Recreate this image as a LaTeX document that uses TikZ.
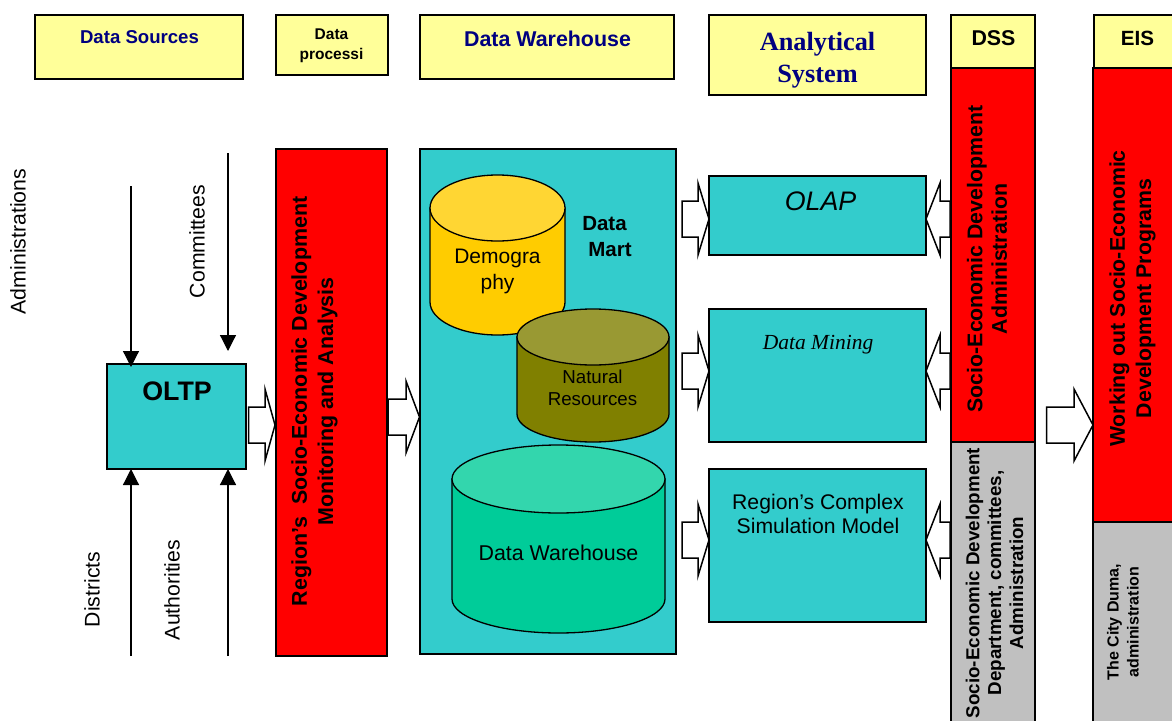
\documentclass[tikz,border=0pt]{standalone}
\usepackage{fontspec}
\setmainfont{Liberation Sans}
\newfontfamily\seriffont{Liberation Serif}
\usetikzlibrary{arrows.meta}
\definecolor{teal1}{HTML}{33CCCC}
\definecolor{paley}{HTML}{FFFF99}
\definecolor{navy1}{HTML}{000080}
\definecolor{gray1}{HTML}{C0C0C0}
\definecolor{olive1}{HTML}{808000}
\definecolor{olive2}{HTML}{999933}
\definecolor{gold1}{HTML}{FFCC00}
\definecolor{gold2}{HTML}{FFD633}
\definecolor{green1}{HTML}{00CC99}
\definecolor{green2}{HTML}{33D6AD}
\newcommand{\fs}[1]{\fontsize{#1}{#1}\selectfont}
% right-pointing block arrow: start x, base x, tip x, centre y
\newcommand{\barrow}[4]{\draw[blockline] (#1,#4-18) -- (#2,#4-18) -- (#2,#4-36) -- (#3,#4) -- (#2,#4+36) -- (#2,#4+18) -- (#1,#4+18) -- cycle;}
\newcommand{\drawcyl}[7]{% xl xr ytop ybot ry body lid
  \pgfmathsetmacro{\rx}{(#2-#1)/2}
  \pgfmathsetmacro{\cx}{(#1+#2)/2}
  \draw[cylline,fill=#6] (#1,#3) -- (#1,#4) arc[start angle=180,end angle=360,x radius=\rx,y radius=-#5] -- (#2,#3) -- cycle;
  \draw[cylline,fill=#7] (\cx,#3) ellipse[x radius=\rx,y radius=#5];
}
\tikzset{
  x=1pt,y=-1pt,
  boxline/.style={draw=black,line width=1.4pt},
  blockline/.style={draw=black,fill=white,line width=1.5pt,line join=miter},
  cylline/.style={draw=black,line width=1.3pt},
  thin arrow/.style={draw=black,line width=1.2pt,-{Triangle[length=16pt,width=16pt]}},
  head/.style={text=navy1,align=center,inner sep=0pt},
  lbl/.style={text=black,align=center,inner sep=0pt},
  vert/.style={text=black,align=center,inner sep=0pt,rotate=90},
}
\begin{document}
\begin{tikzpicture}
\useasboundingbox (0,0) rectangle (1172,720);
% header boxes
\path[boxline,fill=paley] (35,15) rectangle (243,79);
\path[boxline,fill=paley] (276,15) rectangle (388,75);
\path[boxline,fill=paley] (420,15) rectangle (674,79);
\path[boxline,fill=paley] (709,15) rectangle (926,95);
\path[boxline,fill=paley] (951,15) rectangle (1035,68);
\path[boxline,fill=paley] (1094,15) rectangle (1180,68);
\node[head,font=\bfseries\fs{18.6}] (hsrc) at (139.5,37) {Data Sources};
\node[lbl,font=\bfseries\fs{15.5}] (hproc) at (331.5,46) {Data\\[4pt]processi};
\node[head,font=\bfseries\fs{21.4}] (hdw) at (547.5,39) {Data Warehouse};
\node[head,font=\bfseries\fs{26.3}\seriffont] (hana) at (817.5,60) {Analytical\\[6pt]System};
\node[lbl,font=\bfseries\fs{21.4}] (hdss) at (993.5,38) {DSS};
\node[lbl,font=\bfseries\fs{20.6}] (heis) at (1137.5,38) {EIS};
% columns
\path[boxline,fill=gray1] (951,442) rectangle (1035,730);
\path[boxline,fill=red] (951,68) rectangle (1035,442);
\path[boxline,fill=gray1] (1093,522) rectangle (1180,730);
\path[boxline,fill=red] (1093,68) rectangle (1180,522);
\path[boxline,fill=red] (276,149) rectangle (387,656);
\path[boxline,fill=teal1] (420,149) rectangle (676,654);
\path[boxline,fill=teal1] (709,176) rectangle (926,255);
\path[boxline,fill=teal1] (709,309) rectangle (926,442);
\path[boxline,fill=teal1] (709,469) rectangle (926,622);
\path[boxline,fill=teal1] (107,364) rectangle (246,469);
% cylinders
\drawcyl{430}{565}{208}{302}{33}{gold1}{gold2}
\drawcyl{517}{669}{337}{414}{28}{olive1}{olive2}
\drawcyl{452}{665}{479}{599}{34}{green1}{green2}
% block arrows
\barrow{248.5}{265}{275}{425}
\barrow{388}{406}{419.5}{417}
\barrow{682}{698}{709}{219}
\barrow{682}{698}{709}{371}
\barrow{682}{698}{709}{540}
\barrow{950}{940}{926}{219}
\barrow{950}{940}{926}{371}
\barrow{950}{940}{926}{540}
\barrow{1046.5}{1074}{1093}{425}
% thin arrows
\coordinate (a1s) at (131,186); \coordinate (a1e) at (131,367);
\coordinate (a2s) at (228,153); \coordinate (a2e) at (228,351);
\coordinate (a3s) at (131,656); \coordinate (a3e) at (131,469);
\coordinate (a4s) at (228,656); \coordinate (a4e) at (228,469);
\draw[thin arrow] (a1s) -- (a1e);
\draw[thin arrow] (a2s) -- (a2e);
\draw[thin arrow] (a3s) -- (a3e);
\draw[thin arrow] (a4s) -- (a4e);
% labels
\node[vert,font=\fs{21.3}] (ladm) at (18,241.5) {Administrations};
\node[vert,font=\fs{21.2}] (lcom) at (197,241.5) {Committees};
\node[vert,font=\fs{21.2}] (ldis) at (92,589.5) {Districts};
\node[vert,font=\fs{21.2}] (laut) at (172,590) {Authorities};
\node[lbl,font=\bfseries\fs{26.8}] (oltp) at (177,391) {OLTP};
\node[vert,font=\bfseries\fs{21.4}] (lreg) at (314.5,401.5) {Region’s\ \ Socio-Economic Development\\[5pt]Monitoring and Analysis};
\node[lbl,font=\bfseries\fs{20.5}] (lmart) at (610,236.5) {Data\hspace*{11pt}\\[5pt]Mart};
\node[lbl,font=\fs{21}] (ldem) at (497.5,271) {Demogra\\[5pt]phy};
\node[lbl,font=\fs{18.7}] (lnat) at (592.5,388) {Natural\\[3pt]Resources};
\node[lbl,font=\fs{21.4}] (lwh) at (558.5,553) {Data Warehouse};
\node[lbl,font=\itshape\fs{26.8}] (lolap) at (820.5,201) {OLAP};
\node[lbl,font=\itshape\fs{21.5}\seriffont] (lmin) at (818,345) {Data Mining};
\node[lbl,font=\fs{21.2}] (lsim) at (818,514) {Region’s Complex\\[3pt]Simulation Model};
\node[vert,font=\bfseries\fs{21.3}] (ldssr) at (987,259) {Socio-Economic Development\\[3pt]Administration};
\node[vert,font=\bfseries\fs{18.8}] (ldssg) at (994.5,583) {Socio-Economic Development\\[3pt]Department, committees,\\[3pt]Administration};
\node[vert,font=\bfseries\fs{21.3}] (leisr) at (1132.5,298.5) {Working out Socio-Economic\\[5pt]Development Programs};
\node[vert,font=\bfseries\fs{16}] (leisg) at (1123,622) {The City Duma,\\[4pt]administration};
\end{tikzpicture}
\end{document}
